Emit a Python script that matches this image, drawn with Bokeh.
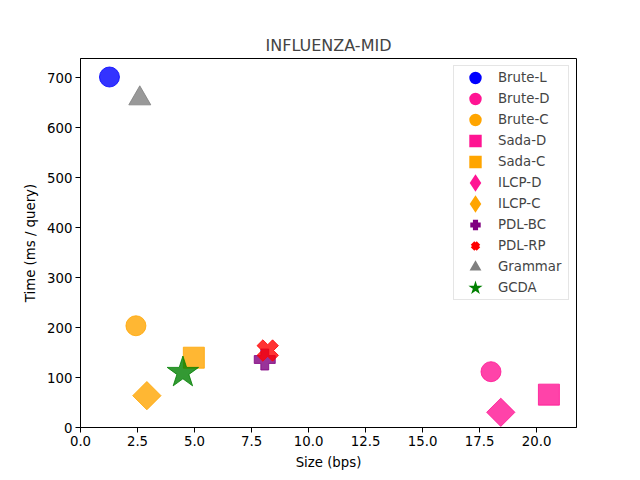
import math
from bokeh.plotting import figure
from bokeh.models import ColumnDataSource, Range1d, FixedTicker, PrintfTickFormatter, Legend, LegendItem
from bokeh.embed import file_html
from bokeh.resources import INLINE

# ---- data ----
names = ["Brute-L", "Brute-D", "Brute-C", "Sada-D", "Sada-C", "ILCP-D", "ILCP-C",
         "PDL-BC", "PDL-RP", "Grammar", "GCDA"]
size_bps = [1.27, 18.0, 2.43, 20.54, 4.97, 18.43, 2.91, 8.08, 8.21, 2.60, 4.49]
time_ms = [701, 111.6, 203.5, 65.7, 139.6, 30.4, 63.7, 136, 154, 658, 110]
x_ticks = [0.0, 2.5, 5.0, 7.5, 10.0, 12.5, 15.0, 17.5, 20.0]
y_ticks = [0, 100, 200, 300, 400, 500, 600, 700]

# ---- styles ----
colors = ["blue", "deeppink", "orange", "deeppink", "orange", "deeppink", "orange",
          "purple", "red", "gray", "green"]
markers = ["circle", "circle", "circle", "square", "square", "square", "square",
           "plus", "plus", "triangle", "star"]
angles = [0, 0, 0, 0, 0, math.pi / 4, math.pi / 4, 0, math.pi / 4, 0, 0]
msizes = [20, 20, 20, 21, 21, 20, 20, 21, 22, 22, 33]
leg_markers = ["circle", "circle", "circle", "square", "square", "diamond", "diamond",
               "plus", "x", "triangle", "star"]
leg_lw = [4, 4, 4, 4, 4, 5, 5, 2, 5, 2, 2]

FONT = "DejaVu Sans"

p = figure(width=640, height=480, output_backend="svg", toolbar_location=None,
           x_range=Range1d(0, 21.75), y_range=Range1d(0, 738),
           min_border_left=80, min_border_right=64, min_border_top=58, min_border_bottom=53,
           title="INFLUENZA-MID")
p.title.text_font = FONT
p.title.text_font_size = "16px"
p.title.text_font_style = "normal"
p.title.align = "center"
p.title.standoff = 8

p.grid.visible = False
p.outline_line_color = "black"
p.outline_line_width = 1
p.outline_line_alpha = 1
p.background_fill_color = "white"
p.border_fill_color = "white"

p.xaxis.ticker = FixedTicker(ticks=x_ticks)
p.xaxis.formatter = PrintfTickFormatter(format="%.1f")
p.yaxis.ticker = FixedTicker(ticks=y_ticks)
p.xaxis.axis_label = "Size (bps)"
p.yaxis.axis_label = "Time (ms / query)"
for ax in (p.xaxis, p.yaxis):
    ax.major_tick_out = 5
    ax.major_tick_in = 0
    ax.minor_tick_line_color = None
    ax.axis_line_color = "black"
    ax.major_tick_line_color = "black"
    ax.major_label_text_font = FONT
    ax.major_label_text_font_size = "13.3px"
    ax.major_label_text_color = "black"
    ax.axis_label_text_font = FONT
    ax.axis_label_text_font_size = "13.3px"
    ax.axis_label_text_font_style = "normal"
    ax.axis_label_text_color = "black"
    ax.major_label_standoff = 3
    ax.axis_label_standoff = 6

items = []
for i, name in enumerate(names):
    src = ColumnDataSource(data=dict(x=[size_bps[i]], y=[time_ms[i]]))
    p.scatter("x", "y", source=src, marker=markers[i], size=msizes[i], angle=angles[i],
              fill_color=colors[i], line_color=colors[i], fill_alpha=0.8, line_alpha=0.8)
    # legend-only glyph (hidden on the plot, drawn in the legend at full opacity)
    lr = p.scatter("x", "y", source=src, marker=leg_markers[i], size=12,
                   fill_color=colors[i], line_color=colors[i], line_width=leg_lw[i],
                   line_join="miter", visible=False)
    items.append(LegendItem(label=name, renderers=[lr]))

legend = Legend(items=items, location="top_right", margin=7,
                border_line_color="#cccccc", border_line_width=1,
                background_fill_color="white", background_fill_alpha=0.8,
                inactive_fill_alpha=0,
                label_text_font=FONT, label_text_font_size="13.3px",
                glyph_width=40, glyph_height=21, label_height=21, spacing=0,
                padding=1, label_standoff=3, label_width=69)
p.add_layout(legend)

open("out.html", "w").write(file_html(p, INLINE))
